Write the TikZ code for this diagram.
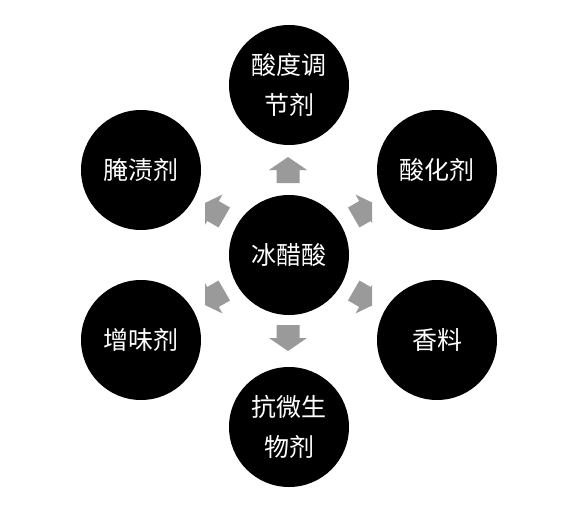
\documentclass[tikz,border=0pt]{standalone}
\usepackage{fontspec}
\newfontfamily\cjk{Noto Sans CJK SC}
\definecolor{arrowgray}{HTML}{9A9A9A}
\tikzset{
  ball/.style={circle, fill=black, minimum size=120pt, inner sep=0pt, text=white, align=center,
    font=\cjk\fontsize{25}{40}\selectfont},
}
\newcommand{\blockarrow}[3]{%
  \begin{scope}[shift={(#1,#2)}, rotate=#3]
    \fill[arrowgray] (-13,-11.5) -- (0,-11.5) -- (0,-19) -- (13,0) -- (0,19) -- (0,11.5) -- (-13,11.5) -- cycle;
  \end{scope}}
\begin{document}
\begin{tikzpicture}[x=1pt,y=1pt]
\useasboundingbox (0,0) rectangle (585,507);
\fill[white] (0,0) rectangle (585,507);
\node[ball] (c) at (289,252) {冰醋酸};
\node[ball] (t) at (289,422) {酸度调\\节剂};
\node[ball] (ul) at (141,337) {腌渍剂};
\node[ball] (ur) at (437,337) {酸化剂};
\node[ball] (ll) at (141,167) {增味剂};
\node[ball] (lr) at (437,167) {香料};
\node[ball] (b) at (289,80) {抗微生\\物剂};
\blockarrow{288}{337}{90}
\blockarrow{288}{169}{-90}
\begin{scope}
  \clip (205,0) rectangle (372,507);
  \blockarrow{365}{296}{30}
  \blockarrow{213}{296}{150}
  \blockarrow{213}{210}{210}
  \blockarrow{365}{210}{-30}
\end{scope}
\end{tikzpicture}
\end{document}
